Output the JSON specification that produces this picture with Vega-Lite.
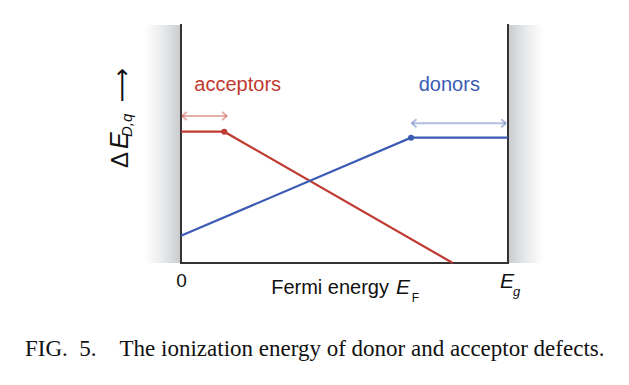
{
  "$schema": "https://vega.github.io/schema/vega-lite/v6.json",
  "width": 327,
  "height": 238,
  "autosize": "none",
  "padding": {"left": 181, "top": 25, "right": 121, "bottom": 122},
  "background": "white",
  "config": {"view": {"stroke": null}, "font": "Liberation Sans"},
  "title": {
    "text": "FIG.\u00a0\u00a05.\u00a0\u00a0\u00a0\u00a0The ionization energy of donor and acceptor defects.",
    "orient": "bottom", "anchor": "start", "frame": "group",
    "offset": 52, "dx": -156, "baseline": "alphabetic",
    "font": "Liberation Serif", "fontSize": 23, "fontWeight": "normal", "color": "#111111"
  },
  "datasets": {
    "bands": [
      {"side": "left", "e": -0.11, "e2": 0, "v": 0, "v2": 1},
      {"side": "right", "e": 1, "e2": 1.107, "v": 0, "v2": 1}
    ],
    "frame": [
      {"e": 0, "e2": 0, "v": 0, "v2": 1},
      {"e": 1, "e2": 1, "v": 0, "v2": 1},
      {"e": 0, "e2": 1, "v": 0, "v2": 0}
    ],
    "lines": [
      {"series": "acceptor", "e": 0, "v": 0.5517},
      {"series": "acceptor", "e": 0.1324, "v": 0.5517},
      {"series": "acceptor", "e": 0.831, "v": 0},
      {"series": "donor", "e": 0, "v": 0.1147},
      {"series": "donor", "e": 0.7034, "v": 0.5265},
      {"series": "donor", "e": 1, "v": 0.5265}
    ],
    "dots": [
      {"series": "acceptor", "e": 0.1324, "v": 0.5517},
      {"series": "donor", "e": 0.7034, "v": 0.5265}
    ],
    "ranges": [
      {"series": "acceptor", "e": 0.003, "e2": 0.1407, "v": 0.6176},
      {"series": "donor", "e": 0.7055, "e2": 0.9939, "v": 0.587}
    ],
    "labels": [
      {"series": "acceptor", "label": "acceptors", "e": 0.1734, "v": 0.7227},
      {"series": "donor", "label": "donors", "e": 0.8205, "v": 0.7227}
    ],
    "zero": [{"label": "0", "e": 0.002, "v": -0.1008}],
    "xtitle": [{"label": "Fermi energy", "e": 0.636, "v": -0.1303}],
    "italE": [
      {"label": "E", "e": 0.6575, "v": -0.1303},
      {"label": "E", "e": 0.9755, "v": -0.105}
    ],
    "subF": [{"label": "F", "e": 0.706, "v": -0.1626}],
    "subg": [{"label": "g", "e": 1.0153, "v": -0.1387}],
    "yDelta": [{"label": "Δ", "e": -0.1621, "v": 0.4328}],
    "yE": [{"label": "E", "e": -0.1621, "v": 0.514}],
    "ySub": [{"label": "D,q", "e": -0.1498, "v": 0.578}],
    "yArrow": [{"label": "⟶", "e": -0.1774, "v": 0.7479}]
  },
  "layer": [
    {
      "data": {"name": "bands"},
      "transform": [{"filter": "datum.side == 'left'"}],
      "mark": {"type": "rect", "fill": {"gradient": "linear", "x1": 0, "y1": 0, "x2": 1, "y2": 0,
        "stops": [{"offset": 0, "color": "#ffffff"}, {"offset": 0.5, "color": "#e8e9ea"}, {"offset": 1, "color": "#c8cacc"}]}},
      "encoding": {
        "x": {"field": "e", "type": "quantitative", "scale": {"domain": [0, 1], "nice": false, "zero": false}, "axis": null},
        "x2": {"field": "e2"},
        "y": {"field": "v", "type": "quantitative", "scale": {"domain": [0, 1], "nice": false, "zero": false}, "axis": null},
        "y2": {"field": "v2"}
      }
    },
    {
      "data": {"name": "bands"},
      "transform": [{"filter": "datum.side == 'right'"}],
      "mark": {"type": "rect", "fill": {"gradient": "linear", "x1": 0, "y1": 0, "x2": 1, "y2": 0,
        "stops": [{"offset": 0, "color": "#c8cacc"}, {"offset": 0.5, "color": "#e8e9ea"}, {"offset": 1, "color": "#ffffff"}]}},
      "encoding": {
        "x": {"field": "e", "type": "quantitative", "axis": null},
        "x2": {"field": "e2"},
        "y": {"field": "v", "type": "quantitative", "axis": null},
        "y2": {"field": "v2"}
      }
    },
    {
      "data": {"name": "frame"},
      "mark": {"type": "rule", "color": "#333333", "strokeWidth": 2, "strokeCap": "square"},
      "encoding": {
        "x": {"field": "e", "type": "quantitative", "axis": null},
        "x2": {"field": "e2"},
        "y": {"field": "v", "type": "quantitative", "axis": null},
        "y2": {"field": "v2"}
      }
    },
    {
      "data": {"name": "ranges"},
      "mark": {"type": "rule", "strokeWidth": 2, "opacity": 0.4},
      "encoding": {
        "x": {"field": "e", "type": "quantitative", "axis": null},
        "x2": {"field": "e2"},
        "y": {"field": "v", "type": "quantitative", "axis": null},
        "color": {"field": "series", "type": "nominal", "scale": {"domain": ["acceptor", "donor"], "range": ["#bf3a30", "#3b5bb4"]}, "legend": null}
      }
    },
    {
      "data": {"name": "ranges"},
      "mark": {"type": "point", "shape": "M 0 0 L 1.2 -1 M 0 0 L 1.2 1", "filled": false, "strokeWidth": 2, "size": 64, "opacity": 0.4},
      "encoding": {
        "x": {"field": "e", "type": "quantitative", "axis": null},
        "y": {"field": "v", "type": "quantitative", "axis": null},
        "color": {"field": "series", "type": "nominal", "legend": null}
      }
    },
    {
      "data": {"name": "ranges"},
      "mark": {"type": "point", "shape": "M 0 0 L -1.2 -1 M 0 0 L -1.2 1", "filled": false, "strokeWidth": 2, "size": 64, "opacity": 0.4},
      "encoding": {
        "x": {"field": "e2", "type": "quantitative", "axis": null},
        "y": {"field": "v", "type": "quantitative", "axis": null},
        "color": {"field": "series", "type": "nominal", "legend": null}
      }
    },
    {
      "data": {"name": "lines"},
      "mark": {"type": "line", "strokeWidth": 2.2},
      "encoding": {
        "x": {"field": "e", "type": "quantitative", "axis": null},
        "y": {"field": "v", "type": "quantitative", "axis": null},
        "color": {"field": "series", "type": "nominal", "legend": null}
      }
    },
    {
      "data": {"name": "dots"},
      "mark": {"type": "point", "filled": true, "opacity": 1, "size": 36},
      "encoding": {
        "x": {"field": "e", "type": "quantitative", "axis": null},
        "y": {"field": "v", "type": "quantitative", "axis": null},
        "color": {"field": "series", "type": "nominal", "legend": null}
      }
    },
    {
      "data": {"name": "labels"},
      "mark": {"type": "text", "fontSize": 20, "align": "center", "baseline": "alphabetic"},
      "encoding": {
        "x": {"field": "e", "type": "quantitative", "axis": null},
        "y": {"field": "v", "type": "quantitative", "axis": null},
        "text": {"field": "label"},
        "color": {"field": "series", "type": "nominal", "legend": null}
      }
    },
    {
      "data": {"name": "zero"},
      "mark": {"type": "text", "fontSize": 19, "align": "center", "baseline": "alphabetic", "color": "#111111"},
      "encoding": {
        "x": {"field": "e", "type": "quantitative", "axis": null},
        "y": {"field": "v", "type": "quantitative", "axis": null},
        "text": {"field": "label"}
      }
    },
    {
      "data": {"name": "xtitle"},
      "mark": {"type": "text", "fontSize": 20, "align": "right", "baseline": "alphabetic", "color": "#111111"},
      "encoding": {
        "x": {"field": "e", "type": "quantitative", "axis": null},
        "y": {"field": "v", "type": "quantitative", "axis": null},
        "text": {"field": "label"}
      }
    },
    {
      "data": {"name": "italE"},
      "mark": {"type": "text", "fontSize": 21, "fontStyle": "italic", "align": "left", "baseline": "alphabetic", "color": "#111111"},
      "encoding": {
        "x": {"field": "e", "type": "quantitative", "axis": null},
        "y": {"field": "v", "type": "quantitative", "axis": null},
        "text": {"field": "label"}
      }
    },
    {
      "data": {"name": "subF"},
      "mark": {"type": "text", "fontSize": 12, "align": "left", "baseline": "alphabetic", "color": "#111111"},
      "encoding": {
        "x": {"field": "e", "type": "quantitative", "axis": null},
        "y": {"field": "v", "type": "quantitative", "axis": null},
        "text": {"field": "label"}
      }
    },
    {
      "data": {"name": "subg"},
      "mark": {"type": "text", "fontSize": 13, "fontStyle": "italic", "align": "left", "baseline": "alphabetic", "color": "#111111"},
      "encoding": {
        "x": {"field": "e", "type": "quantitative", "axis": null},
        "y": {"field": "v", "type": "quantitative", "axis": null},
        "text": {"field": "label"}
      }
    },
    {
      "data": {"name": "yDelta"},
      "mark": {"type": "text", "fontSize": 24, "angle": 270, "align": "center", "baseline": "alphabetic", "color": "#111111"},
      "encoding": {
        "x": {"field": "e", "type": "quantitative", "axis": null},
        "y": {"field": "v", "type": "quantitative", "axis": null},
        "text": {"field": "label"}
      }
    },
    {
      "data": {"name": "yE"},
      "mark": {"type": "text", "fontSize": 25, "fontStyle": "italic", "angle": 270, "align": "center", "baseline": "alphabetic", "color": "#111111"},
      "encoding": {
        "x": {"field": "e", "type": "quantitative", "axis": null},
        "y": {"field": "v", "type": "quantitative", "axis": null},
        "text": {"field": "label"}
      }
    },
    {
      "data": {"name": "ySub"},
      "mark": {"type": "text", "fontSize": 15, "fontStyle": "italic", "angle": 270, "align": "center", "baseline": "alphabetic", "color": "#111111"},
      "encoding": {
        "x": {"field": "e", "type": "quantitative", "axis": null},
        "y": {"field": "v", "type": "quantitative", "axis": null},
        "text": {"field": "label"}
      }
    },
    {
      "data": {"name": "yArrow"},
      "mark": {"type": "text", "font": "DejaVu Sans", "fontSize": 24, "angle": 270, "align": "center", "baseline": "middle", "color": "#111111"},
      "encoding": {
        "x": {"field": "e", "type": "quantitative", "axis": null},
        "y": {"field": "v", "type": "quantitative", "axis": null},
        "text": {"field": "label"}
      }
    }
  ]
}
